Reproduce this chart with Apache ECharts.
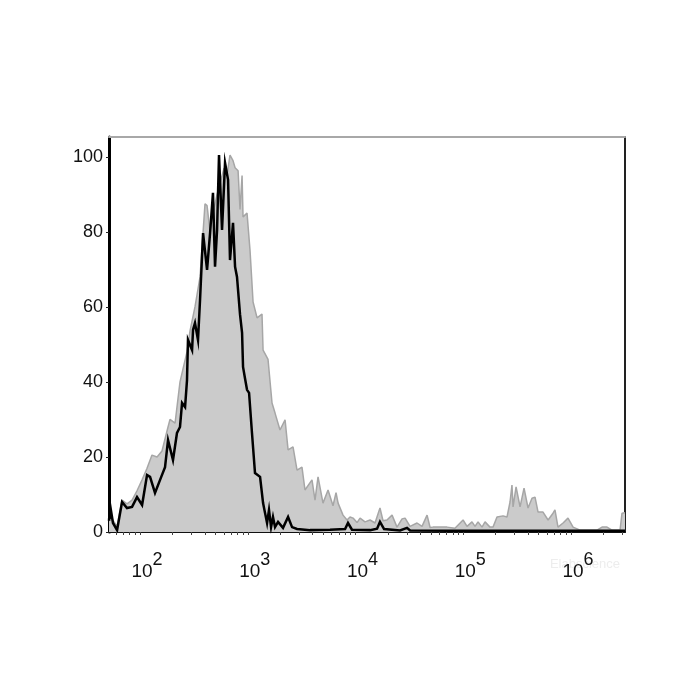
<!DOCTYPE html>
<html>
<head>
<meta charset="utf-8">
<script src="https://cdn.jsdelivr.net/npm/echarts@6/dist/echarts.min.js"></script>
<style>html,body{margin:0;padding:0;background:#fff}#chart{width:700px;height:700px}</style>
</head>
<body>
<div id="chart"></div>
<script>
// x values are log10(fluorescence intensity); y values are event counts (% of max)
const blackLogX = [1.712,1.722,1.749,1.787,1.833,1.879,1.926,1.972,2.019,2.065,2.093,2.139,2.186,2.232,2.260,2.306,2.343,2.371,2.390,2.418,2.436,2.445,2.483,2.492,2.510,2.538,2.557,2.585,2.603,2.622,2.650,2.677,2.696,2.715,2.733,2.761,2.789,2.817,2.835,2.863,2.882,2.900,2.928,2.947,2.956,2.974,2.993,3.012,3.039,3.067,3.114,3.142,3.160,3.179,3.197,3.216,3.234,3.253,3.281,3.327,3.374,3.411,3.457,3.578,3.763,3.903,3.930,3.967,4.135,4.200,4.227,4.265,4.413,4.478,4.506,4.877,5.341,5.805,6.269,6.501];
const blackCount = [3.0,7.2,2.4,0.5,8.0,6.4,6.7,9.3,7.2,15.2,14.7,10.4,13.9,17.3,24.5,19.2,26.4,28.0,34.4,33.3,40.5,51.2,48.5,53.9,55.7,51.2,61.9,79.7,80.0,69.9,79.7,90.4,70.7,80.5,100.5,80.5,98.4,93.9,72.5,82.4,70.7,68.0,58.0,53.1,44.0,41.0,37.9,37.1,26.4,15.7,14.7,7.7,5.1,2.4,5.9,1.3,4.0,1.3,2.7,1.1,4.0,1.3,0.8,0.5,0.6,0.8,2.4,0.6,0.5,0.9,2.7,0.8,0.4,1.1,0.4,0.3,0.3,0.3,0.3,0.3];

const grayLogX = [1.712,1.740,1.787,1.833,1.879,1.926,1.972,2.019,2.065,2.111,2.158,2.204,2.251,2.278,2.325,2.371,2.399,2.436,2.464,2.510,2.557,2.603,2.622,2.650,2.677,2.715,2.743,2.780,2.807,2.835,2.863,2.882,2.910,2.928,2.947,2.956,2.993,3.021,3.049,3.086,3.132,3.142,3.188,3.225,3.253,3.299,3.346,3.374,3.420,3.457,3.503,3.531,3.596,3.624,3.652,3.698,3.745,3.791,3.819,3.838,3.884,3.921,3.949,3.977,4.014,4.042,4.088,4.135,4.181,4.227,4.255,4.292,4.339,4.385,4.432,4.460,4.506,4.571,4.617,4.664,4.692,4.719,4.784,4.849,4.923,4.998,5.035,5.081,5.109,5.137,5.174,5.202,5.248,5.276,5.313,5.369,5.406,5.434,5.452,5.462,5.490,5.527,5.564,5.601,5.638,5.666,5.694,5.740,5.787,5.833,5.851,5.879,5.926,5.972,6.019,6.084,6.176,6.241,6.288,6.334,6.380,6.455,6.473,6.501];
const grayCount = [3.0,3.5,1.5,8.5,7.5,8.5,11.0,13.9,17.0,20.5,20.0,21.6,27.0,30.0,29.0,40.0,43.5,48.0,53.6,60.0,68.0,87.5,87.0,80.0,85.0,90.0,93.0,97.0,95.0,100.5,99.0,97.1,96.3,86.0,95.0,84.0,85.0,75.0,61.3,57.1,58.1,48.5,46.0,34.4,31.7,27.2,29.9,21.9,22.7,16.5,17.3,11.2,13.9,8.5,14.7,7.7,11.2,7.0,10.5,7.7,4.5,3.2,4.0,3.7,2.5,3.7,2.7,3.2,2.4,6.4,3.0,3.2,4.5,1.3,3.5,3.7,1.5,2.4,1.5,4.5,1.2,1.3,1.3,1.3,1.0,3.2,1.5,2.7,1.5,2.7,1.3,2.7,1.3,1.3,4.0,4.3,4.0,8.0,12.5,6.7,12.0,6.7,11.7,6.4,9.0,9.3,5.3,5.3,3.2,5.0,5.9,1.3,2.4,3.7,1.3,0.5,0.5,0.5,1.3,1.3,0.5,0.5,5.0,5.1];

const xTickExponents = [2, 3, 4, 5, 6];
const yTickLabels = [0, 20, 40, 60, 80, 100];

const xMin = 1.712, xMax = 6.501, yMax = 105.3;

// minor log ticks (k x 10^n) inside the axis range
const xMinorTicks = [];
for (let e = 1; e <= 6; e++) {
  for (let k = 1; k <= 9; k++) {
    const v = Math.log10(k) + e;
    if (v >= xMin && v <= xMax) xMinorTicks.push(v);
  }
}

const zip = (a, b) => a.map((v, i) => [v, b[i]]);

const chart = echarts.init(document.getElementById('chart'), null, {renderer: 'canvas'});
chart.setOption({
  animation: false,
  backgroundColor: '#ffffff',
  textStyle: {fontFamily: 'Liberation Sans, Arial, sans-serif'},
  grid: {left: 109, top: 137, width: 516, height: 395, containLabel: false},
  xAxis: [{
    type: 'value', min: xMin, max: xMax,
    axisLine: {show: true, lineStyle: {color: '#111', width: 2}},
    axisTick: {show: true, customValues: xMinorTicks, length: 3, inside: false, lineStyle: {color: '#444', width: 1}},
    splitLine: {show: false},
    axisLabel: {
      customValues: xTickExponents,
      margin: 19,
      padding: [0, 0, 0, 14],
      color: '#111',
      formatter: v => '{b|10}{s|' + Math.round(v) + '}',
      rich: {
        b: {fontSize: 19, color: '#111', fontFamily: 'Liberation Sans, Arial, sans-serif', verticalAlign: 'bottom'},
        s: {fontSize: 18, color: '#111', fontFamily: 'Liberation Sans, Arial, sans-serif', verticalAlign: 'bottom', padding: [0, 0, 12, 0]}
      }
    }
  }, {
    type: 'value', position: 'top', min: xMin, max: xMax,
    axisLine: {show: true, onZero: false, lineStyle: {color: '#a8a8a8', width: 2}},
    axisTick: {show: false}, axisLabel: {show: false}, splitLine: {show: false}
  }],
  yAxis: [{
    type: 'value', min: 0, max: yMax,
    axisLine: {show: true, onZero: false, lineStyle: {color: '#000', width: 3}},
    axisTick: {show: true, customValues: yTickLabels, length: 3, lineStyle: {color: '#222', width: 1}},
    splitLine: {show: false},
    axisLabel: {
      customValues: yTickLabels,
      margin: 6, fontSize: 18, color: '#111', padding: [8, 0, 0, 0],
      fontFamily: 'Liberation Sans, Arial, sans-serif'
    }
  }, {
    type: 'value', position: 'right', min: 0, max: yMax,
    axisLine: {show: true, onZero: false, lineStyle: {color: '#222', width: 2}},
    axisTick: {show: false}, axisLabel: {show: false}, splitLine: {show: false}
  }],
  graphic: [{
    type: 'text', right: 80, top: 558,
    style: {text: 'Elabscience', fill: '#ededed', fontSize: 13, fontFamily: 'Liberation Sans, Arial, sans-serif'}
  }],
  series: [{
    name: 'isotype', type: 'line', data: zip(grayLogX, grayCount),
    symbol: 'none', smooth: false, z: 2,
    lineStyle: {color: '#a6a6a6', width: 1.5},
    areaStyle: {color: '#cbcbcb', opacity: 1}
  }, {
    name: 'sample', type: 'line', data: zip(blackLogX, blackCount),
    symbol: 'none', smooth: false, z: 3,
    lineStyle: {color: '#000', width: 2.5, join: 'miter'}
  }]
});
</script>
</body>
</html>
